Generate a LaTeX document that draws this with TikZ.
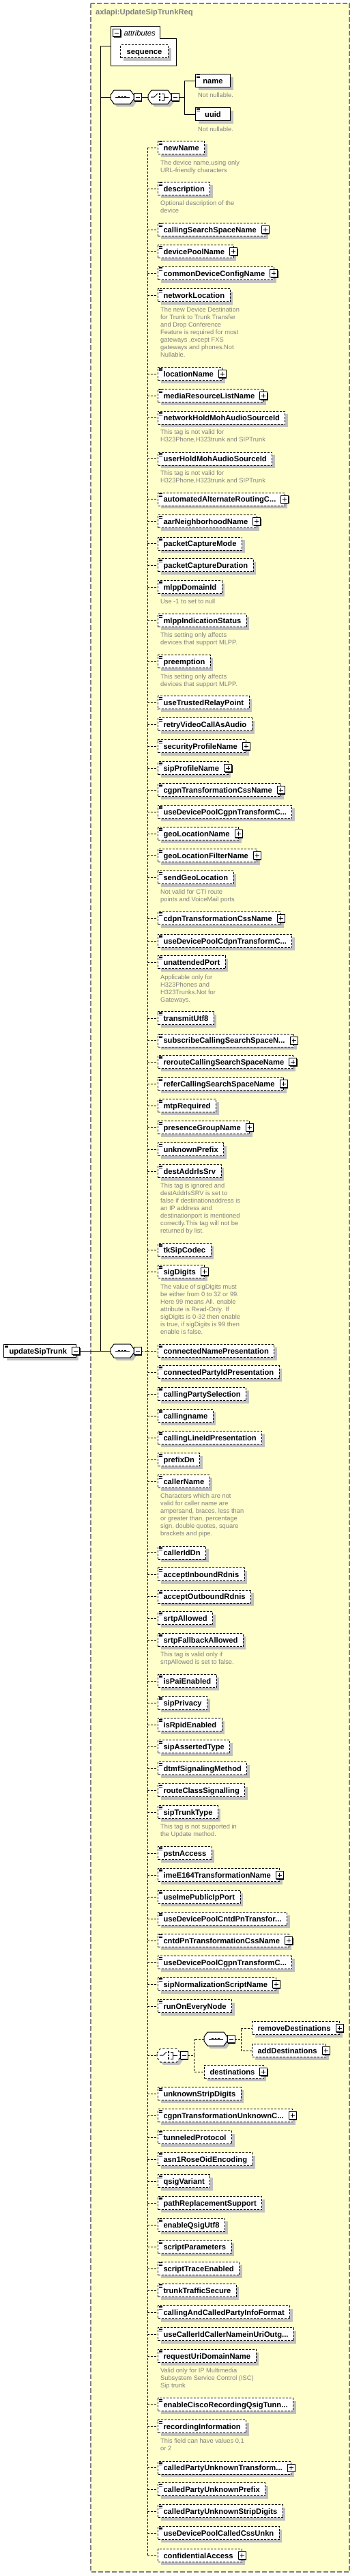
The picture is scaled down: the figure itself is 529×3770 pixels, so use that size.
\documentclass[tikz,border=0pt]{standalone}
\usepackage{fontspec}
\setmainfont{Liberation Sans}
\usetikzlibrary{shadows}

\definecolor{typefill}{RGB}{255,255,204}
\definecolor{shadegray}{RGB}{192,192,192}
\definecolor{notegray}{RGB}{128,128,128}

\newcommand{\trunc}{...}
\newcommand{\compoct}{(0,-3) -- (5,-10) -- (29,-10) -- (34,-3) -- (34,3) -- (29,10) -- (5,10) -- (0,3) -- cycle}

\tikzset{
  minusbtn/.pic={
    \fill (-5,-4.5) rectangle (6,6.5);
    \draw[line width=1pt, fill=white] (-6,-5.5) rectangle (5,5.5);
    \draw[line width=1pt] (-3.5,0) -- (2.5,0);
  },
  plusbtn/.pic={
    \fill (-5,-4.5) rectangle (6,6.5);
    \draw[line width=1pt, fill=white] (-6,-5.5) rectangle (5,5.5);
    \draw[line width=1pt] (-3.5,0) -- (2.5,0) (-0.5,-3) -- (-0.5,3);
  },
  menuicon/.pic={
    \draw[line width=0.9pt] (1.5,1.8) -- (6.5,1.8) (1.5,3.6) -- (6.5,3.6) (1.5,5.4) -- (6.5,5.4);
  },
  seqc/.pic={
    \fill[shadegray, shift={(4,4)}] \compoct;
    \draw[#1, line width=1pt, fill=white] \compoct;
    \draw[line width=1pt] (7,0) -- (28,0);
    \foreach \q in {11,15.5,20} \fill (\q,-1.3) rectangle ++(2.6,2.6);
    \pic at (40,0) {minusbtn};
    \coordinate (-in) at (0,0);
    \coordinate (-out) at (45,0);
  },
  choicec/.pic={
    \fill[shadegray, shift={(4,4)}] \compoct;
    \draw[#1, line width=1pt, fill=white] \compoct;
    \draw[line width=1pt] (4,0) -- (9,0) -- (14,-5);
    \foreach \q in {-6,-1.3,3.4} \fill (15.5,\q) rectangle ++(2.6,2.6);
    \draw[line width=1pt] (20,-5) -- (23.5,-5) -- (23.5,5) -- (20,5) (23.5,0) -- (30,0);
    \pic at (40,0) {minusbtn};
    \coordinate (-in) at (0,0);
    \coordinate (-out) at (45,0);
  }
}

\begin{document}
\begin{tikzpicture}[x=1pt, y=-1pt,
  namefont/.style={font=\bfseries\fontsize{11.2}{13}\selectfont},
  elem/.style={draw, fill=white, anchor=west, line width=1pt, dash pattern=on 3pt off 2pt,
    namefont, inner xsep=8pt, inner ysep=0pt, minimum height=19pt, text height=8pt, text depth=0pt,
    drop shadow={shadow xshift=4pt, shadow yshift=-4pt, fill=shadegray, opacity=1}},
  reqelem/.style={elem, solid},
  link/.style={line width=1pt, dash pattern=on 3pt off 2pt},
  wire/.style={line width=1pt},
  annot/.style={anchor=north west, inner sep=0pt, align=left, text=notegray,
    font=\fontsize{9.3}{11}\selectfont}]

\useasboundingbox (0,0) rectangle (529,3770);
\draw[notegray, line width=1.2pt, dash pattern=on 7pt off 3pt, fill=typefill] (133,5) rectangle (512,3764);
\node[namefont, text=notegray, anchor=west, inner sep=0pt] (title) at (140,19) {axlapi:UpdateSipTrunkReq};

% attributes
\draw[wire, fill=white] (162,38) -- (234,38) -- (234,56) -- (258,56) -- (258,96) -- (162,96) -- cycle;
\pic at (171.5,48) {minusbtn};
\node[anchor=west, inner sep=0pt, font=\itshape\fontsize{11.2}{13}\selectfont] (attr) at (181.5,48) {attributes};
\node[elem, minimum width=70pt] (seqattr) at (176,75) {sequence};
\coordinate (attrin) at (162,67);

% root and main branch
\node[reqelem] (root) at (5,1977) {updateSipTrunk\hspace*{5pt}};
\pic at (root.north west) {menuicon};
\pic at (root.east) {minusbtn};
\coordinate (rootout) at ([xshift=5pt]root.east);
\coordinate (r1) at (147,67);
\coordinate (r2) at (147,142);
\coordinate (r3) at (147,1977);
\draw[wire] (attrin) -- (r1) -- (r3);
\draw[wire] (rootout) -- (r3);
\draw[wire] (r2) -- (162,142);
\draw[wire] (r3) -- (162,1977);
\pic (s1) at (162,142) {seqc=solid};
\pic (s2) at (162,1977) {seqc=solid};

% name or uuid
\pic (c1) at (217,142) {choicec=solid};
\draw[wire] (s1-out) -- (c1-in);
\coordinate (b1) at (270,142);
\node[reqelem, minimum width=51pt] (nm) at (286,118) {name};
\node[reqelem, minimum width=51pt] (uu) at (286,167) {uuid};
\pic at (nm.north west) {menuicon};
\pic at (uu.north west) {menuicon};
\draw[wire] (c1-out) -- (b1) |- (nm);
\draw[wire] (b1) |- (uu);
\node[annot] (nmnote) at (290,135.5) {Not nullable.};
\node[annot] (uunote) at (290,185.5) {Not nullable.};

% optional elements
\coordinate (t0) at (216,1977);
\draw[link] (s2-out) -- (t0);
\foreach \yy/\nm/\pb [count=\i] in {216/newName/0, 276/description/0,
  336/callingSearchSpaceName/1, 368.3/devicePoolName/1, 400/commonDeviceConfigName/1,
  432.3/networkLocation/0, 547.3/locationName/1, 579/mediaResourceListName/1,
  611.7/networkHoldMohAudioSourceId/0, 671.7/userHoldMohAudioSourceId/0,
  730.7/automatedAlternateRoutingC\trunc/1, 763.3/aarNeighborhoodName/1,
  795.7/packetCaptureMode/0, 827.3/packetCaptureDuration/0, 859.3/mlppDomainId/0,
  908.3/mlppIndicationStatus/0, 968.3/preemption/0, 1028.3/useTrustedRelayPoint/0,
  1060.3/retryVideoCallAsAudio/0, 1092.3/securityProfileName/1, 1124.3/sipProfileName/1,
  1156/cgpnTransformationCssName/1, 1188.3/useDevicePoolCgpnTransformC\trunc/0,
  1220.3/geoLocationName/1, 1252.3/geoLocationFilterName/1, 1284.3/sendGeoLocation/0,
  1344/cdpnTransformationCssName/1, 1377.3/useDevicePoolCdpnTransformC\trunc/0,
  1408.3/unattendedPort/0, 1490/transmitUtf8/0, 1522.7/subscribeCallingSearchSpaceN\trunc/1,
  1554.3/rerouteCallingSearchSpaceName/1, 1586/referCallingSearchSpaceName/1,
  1618.3/mtpRequired/0, 1650.3/presenceGroupName/1, 1682.3/unknownPrefix/0,
  1714.3/destAddrIsSrv/0, 1829.3/tkSipCodec/0, 1861.3/sigDigits/1,
  1977/connectedNamePresentation/0, 2008.3/connectedPartyIdPresentation/0,
  2040.3/callingPartySelection/0, 2072.3/callingname/0, 2104.3/callingLineIdPresentation/0,
  2136.3/prefixDn/0, 2168.3/callerName/0, 2272.7/callerIdDn/0, 2304.3/acceptInboundRdnis/0,
  2336.7/acceptOutboundRdnis/0, 2368.3/srtpAllowed/0, 2400.3/srtpFallbackAllowed/0,
  2460/isPaiEnabled/0, 2492.3/sipPrivacy/0, 2524.3/isRpidEnabled/0, 2556.3/sipAssertedType/0,
  2588.3/dtmfSignalingMethod/0, 2620.3/routeClassSignalling/0, 2652.3/sipTrunkType/0,
  2712/pstnAccess/0, 2744.3/imeE164TransformationName/1, 2776/useImePublicIpPort/0,
  2808.3/useDevicePoolCntdPnTransfor\trunc/0, 2840/cntdPnTransformationCssName/1,
  2872.3/useDevicePoolCgpnTransformC\trunc/0, 2904/sipNormalizationScriptName/1,
  2936.3/runOnEveryNode/0, 3064.3/unknownStripDigits/0,
  3096.3/cgpnTransformationUnknownC\trunc/1, 3128/tunneledProtocol/0,
  3160/asn1RoseOidEncoding/0, 3192.3/qsigVariant/0, 3224/pathReplacementSupport/0,
  3256/enableQsigUtf8/0, 3288/scriptParameters/0, 3320/scriptTraceEnabled/0,
  3352/trunkTrafficSecure/0, 3384/callingAndCalledPartyInfoFormat/0,
  3416.3/useCallerIdCallerNameinUriOutg\trunc/0, 3448/requestUriDomainName/0,
  3519.3/enableCiscoRecordingQsigTunn\trunc/0, 3551.3/recordingInformation/0,
  3611.7/calledPartyUnknownTransform\trunc/1, 3643.3/calledPartyUnknownPrefix/0,
  3675.3/calledPartyUnknownStripDigits/0, 3707/useDevicePoolCalledCssUnkn/0}{
  \coordinate (t\i) at (216,\yy);
  \node[elem] (e\i) at (231,\yy) {\nm\ifnum\pb=1 \hspace*{5pt}\fi};
  \pic at (e\i.north west) {menuicon};
  \ifnum\pb=1 \pic at (e\i.east) {plusbtn};\fi
  \draw[link] (t\i) -- (e\i);
}

% destinations choice
\coordinate (tc) at (216,3008);
\pic (c2) at (230,3008) {choicec=dashed};
\draw[link] (tc) -- (c2-in);
\coordinate (b2) at (284,3008);
\pic (s3) at (299,2984) {seqc=solid};
\draw[link] (c2-out) -- (b2) |- (s3-in);
\node[elem] (dst) at (299,3032) {destinations\hspace*{5pt}};
\pic at (dst.east) {plusbtn};
\draw[link] (b2) |- (dst);
\coordinate (b3) at (353,2984);
\node[elem] (rmd) at (369,2968) {removeDestinations\hspace*{5pt}};
\node[elem] (add) at (369,3001) {addDestinations\hspace*{5pt}};
\pic at (rmd.east) {plusbtn};
\pic at (add.east) {plusbtn};
\draw[link] (s3-out) -- (b3) |- (rmd);
\draw[link] (b3) |- (add);

\coordinate (tz) at (216,3740);
\node[elem] (conf) at (231,3740) {confidentialAccess\hspace*{5pt}};
\pic at (conf.east) {plusbtn};
\draw[link] (tz) -- (conf);
\draw[link] (t1) -- (tz);

% annotations
\node[annot] (n1) at (235,234.5) {The device name,using only\\URL-friendly characters};
\node[annot] (n2) at (235,293.5) {Optional description of the\\device};
\node[annot] (n3) at (235,450) {The new Device Destination\\for Trunk to Trunk Transfer\\and Drop Conference\\Feature is required for most\\gateways ,except FXS\\gateways and phones.Not\\Nullable.};
\node[annot] (n4) at (235,629) {This tag is not valid for\\H323Phone,H323trunk and SIPTrunk};
\node[annot] (n5) at (235,689) {This tag is not valid for\\H323Phone,H323trunk and SIPTrunk};
\node[annot] (n6) at (235,877) {Use -1 to set to null};
\node[annot] (n7) at (235,926) {This setting only affects\\devices that support MLPP.};
\node[annot] (n8) at (235,986.5) {This setting only affects\\devices that support MLPP.};
\node[annot] (n9) at (235,1302) {Not valid for CTI route\\points and VoiceMail ports};
\node[annot] (n10) at (235,1426.5) {Applicable only for\\H323Phones and\\H323Trunks.Not for\\Gateways.};
\node[annot] (n11) at (235,1732) {This tag is ignored and\\destAddrIsSRV is set to\\false if destinationaddress is\\an IP address and\\destinationport is mentioned\\correctly.This tag will not be\\returned by list.};
\node[annot] (n12) at (235,1879.5) {The value of sigDigits  must\\be either from 0 to 32 or 99.\\Here 99 means All. enable\\attribute is Read-Only. If\\sigDigits is 0-32 then enable\\is true, if sigDigits is 99 then\\enable is false.};
\node[annot] (n13) at (235,2186) {Characters which are not\\valid for caller name are\\ampersand, braces, less than\\or greater than, percentage\\sign, double quotes, square\\brackets and pipe.};
\node[annot] (n14) at (235,2418) {This tag is valid only if\\srtpAllowed is set to false.};
\node[annot] (n15) at (235,2670) {This tag is not supported in\\the Update method.};
\node[annot] (n16) at (235,3466) {Valid only for IP Multimedia\\Subsystem Service Control (ISC)\\Sip trunk};
\node[annot] (n17) at (235,3569) {This field can have values 0,1\\or 2};
\end{tikzpicture}
\end{document}
